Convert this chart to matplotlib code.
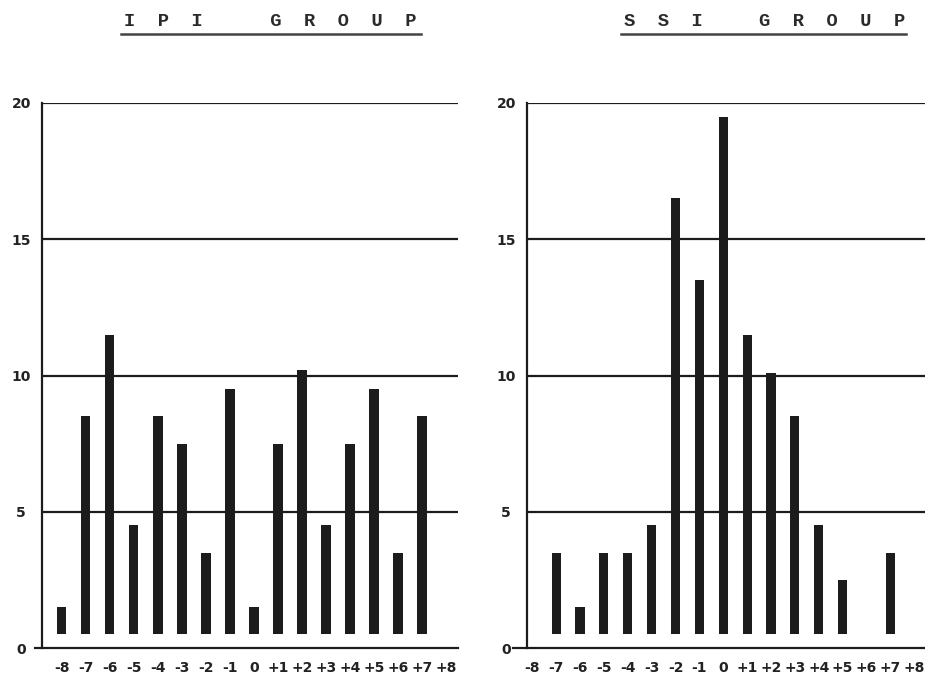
import matplotlib
matplotlib.use("Agg")
import matplotlib.pyplot as plt
from matplotlib.lines import Line2D

# deviation classes on the x axis
classes = [-8, -7, -6, -5, -4, -3, -2, -1, 0, 1, 2, 3, 4, 5, 6, 7, 8]
class_labels = ["-8", "-7", "-6", "-5", "-4", "-3", "-2", "-1", "0",
                "+1", "+2", "+3", "+4", "+5", "+6", "+7", "+8"]

# bar tops (None = no bar)
ipi_values = [1.5, 8.5, 11.5, 4.5, 8.5, 7.5, 3.5, 9.5, 1.5,
              7.5, 10.2, 4.5, 7.5, 9.5, 3.5, 8.5, None]
ssi_values = [None, 3.5, 1.5, 3.5, 3.5, 4.5, 16.5, 13.5, 19.5,
              11.5, 10.1, 8.5, 4.5, 2.5, None, 3.5, None]

y_ticks = [0, 5, 10, 15, 20]
titles = ["I  P  I      G  R  O  U  P", "S  S  I     G  R  O  U  P"]

W, H = 925, 687
fig = plt.figure(figsize=(W / 100, H / 100), dpi=100)
fig.patch.set_facecolor("white")

ink = "#1c1c1c"
tick_font = ["DejaVu Sans"]


def px_axes(x0, x1, ytop, ybot):
    return fig.add_axes([x0 / W, 1 - ybot / H, (x1 - x0) / W, (ybot - ytop) / H])


def panel(ax, values, xlim, base_from):
    ax.set_xlim(*xlim)
    ax.set_ylim(0, 20)
    for s in ["top", "right", "bottom"]:
        ax.spines[s].set_visible(False)
    ax.spines["left"].set_linewidth(1.6)
    ax.spines["left"].set_color(ink)
    for v in y_ticks[1:]:
        ax.axhline(v, color=ink, lw=1.6, zorder=1)
    # bottom line runs a bit past the left axis
    ax.plot([base_from, xlim[1]], [0, 0], color=ink, lw=1.6, clip_on=False, zorder=1)
    xs = [c for c, v in zip(classes, values) if v is not None]
    hs = [v - 0.5 for v in values if v is not None]
    ax.bar(xs, hs, bottom=0.5, width=0.38, color=ink, zorder=2)
    ax.set_xticks(classes)
    ax.set_xticklabels(class_labels, fontsize=10, fontweight="bold",
                       family=tick_font, color="#222")
    ax.set_yticks(y_ticks)
    ax.set_yticklabels([str(t) for t in y_ticks], fontsize=10, fontweight="bold",
                       family=tick_font, color="#222", ha="center")
    ax.tick_params(axis="x", length=0, pad=9)
    ax.tick_params(axis="y", length=0, pad=15)


ax1 = px_axes(42, 458, 103, 648)
panel(ax1, ipi_values, (-8.83, 8.5), -9.12)

ax2 = px_axes(527, 925, 103, 648)
panel(ax2, ssi_values, (-8.22, 8.45), -8.8)

# typewriter titles with underline
for txt, x0, x1 in [(titles[0], 124, 421), (titles[1], 624, 906)]:
    fig.text(x0 / W, 1 - 22 / H, txt, ha="left", va="center", fontsize=13.5,
             fontweight="bold", family=["Liberation Mono", "DejaVu Sans Mono"],
             color="#2a2a2a")
    fig.add_artist(Line2D([(x0 - 3) / W, x1 / W], [1 - 34 / H, 1 - 34 / H],
                          color="#444", lw=1.8, transform=fig.transFigure))

fig.savefig("out.png", dpi=100, facecolor="white")
